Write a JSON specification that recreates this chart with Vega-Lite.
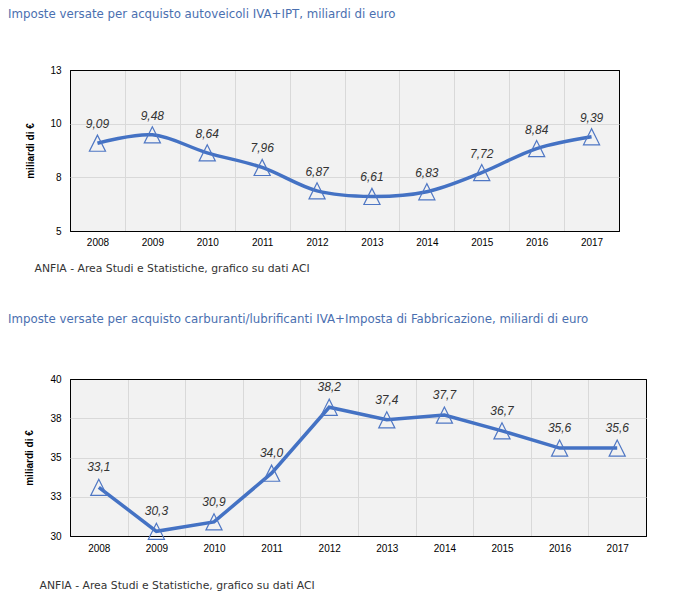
{
  "$schema": "https://vega.github.io/schema/vega-lite/v6.json",
  "padding": {"left": 7, "top": 8, "right": 5, "bottom": 5},
  "background": "white",
  "spacing": 39,
  "config": {
    "locale": {"number": {"decimal": ",", "thousands": ".", "grouping": [3], "currency": ["", " €"]}},
    "view": {"fill": "#f2f2f2", "stroke": "black", "strokeWidth": 1},
    "axis": {
      "labelFont": "Liberation Sans", "labelFontSize": 10, "labelColor": "black",
      "domain": false, "ticks": false, "grid": true, "gridWidth": 1,
      "titleFont": "Liberation Sans", "titleColor": "black"
    },
    "title": {"font": "DejaVu Sans", "fontSize": 11.8, "fontWeight": "normal", "color": "#4a6fb0", "anchor": "start", "frame": "group"}
  },
  "vconcat": [
    {
      "title": {"text": "Imposte versate per acquisto autoveicoli IVA+IPT, miliardi di euro", "dx": -62, "offset": 44},
      "width": 549,
      "height": 161,
      "data": {"values": [
        {"anno": "2008", "valore": 9.09},
        {"anno": "2009", "valore": 9.48},
        {"anno": "2010", "valore": 8.64},
        {"anno": "2011", "valore": 7.96},
        {"anno": "2012", "valore": 6.87},
        {"anno": "2013", "valore": 6.61},
        {"anno": "2014", "valore": 6.83},
        {"anno": "2015", "valore": 7.72},
        {"anno": "2016", "valore": 8.84},
        {"anno": "2017", "valore": 9.39}
      ]},
      "encoding": {
        "x": {"field": "anno", "type": "ordinal", "scale": {"paddingInner": 0, "paddingOuter": 0},
          "axis": {"labelAngle": 0, "tickBand": "extent", "labelPadding": 6,
            "gridColor": {"condition": {"test": "datum.extra || datum.index == 1", "value": "black"}, "value": "#d9d9d9"},
            "title": "ANFIA - Area Studi e Statistiche, grafico su dati ACI",
            "titleAnchor": "start", "titleX": -36, "titleY": 31, "titleBaseline": "top",
            "titleFont": "DejaVu Sans", "titleFontWeight": "normal", "titleFontSize": 10.8, "titleColor": "#333333"}},
        "y": {"field": "valore", "type": "quantitative", "scale": {"domain": [5, 12.5], "nice": false, "zero": false},
          "axis": {"values": [5, 7.5, 10, 12.5], "format": ".0f", "labelPadding": 9,
            "gridColor": {"condition": {"test": "datum.value == 5 || datum.value == 12.5", "value": "black"}, "value": "#d9d9d9"},
            "title": "miliardi di €", "titleFontSize": 10, "titleFontWeight": "bold", "titlePadding": 14}}
      },
      "layer": [
        {"mark": {"type": "line", "color": "#4472c4", "strokeWidth": 3.5, "interpolate": "catmull-rom"}},
        {"mark": {"type": "point", "shape": "M0,-1L-1,1L1,1Z", "size": 260, "filled": false, "stroke": "#4f77c4", "strokeWidth": 1.2, "opacity": 1}},
        {"mark": {"type": "text", "dy": -19, "fontStyle": "italic", "fontSize": 12, "font": "Liberation Sans", "color": "#333333"},
          "encoding": {"text": {"field": "valore", "type": "quantitative", "format": ".2f"}}}
      ]
    },
    {
      "title": {"text": "Imposte versate per acquisto carburanti/lubrificanti IVA+Imposta di Fabbricazione, miliardi di euro", "dx": -62, "offset": 48},
      "width": 576,
      "height": 157,
      "data": {"values": [
        {"anno": "2008", "valore": 33.1},
        {"anno": "2009", "valore": 30.3},
        {"anno": "2010", "valore": 30.9},
        {"anno": "2011", "valore": 34.0},
        {"anno": "2012", "valore": 38.2},
        {"anno": "2013", "valore": 37.4},
        {"anno": "2014", "valore": 37.7},
        {"anno": "2015", "valore": 36.7},
        {"anno": "2016", "valore": 35.6},
        {"anno": "2017", "valore": 35.6}
      ]},
      "encoding": {
        "x": {"field": "anno", "type": "ordinal", "scale": {"paddingInner": 0, "paddingOuter": 0},
          "axis": {"labelAngle": 0, "tickBand": "extent", "labelPadding": 7,
            "gridColor": {"condition": {"test": "datum.extra || datum.index == 1", "value": "black"}, "value": "#d9d9d9"},
            "title": "ANFIA - Area Studi e Statistiche, grafico su dati ACI",
            "titleAnchor": "start", "titleX": -31, "titleY": 43, "titleBaseline": "top",
            "titleFont": "DejaVu Sans", "titleFontWeight": "normal", "titleFontSize": 10.8, "titleColor": "#333333"}},
        "y": {"field": "valore", "type": "quantitative", "scale": {"domain": [30, 40], "nice": false, "zero": false},
          "axis": {"values": [30, 32.5, 35, 37.5, 40], "format": ".0f", "labelPadding": 9,
            "gridColor": {"condition": {"test": "datum.value == 30 || datum.value == 40", "value": "black"}, "value": "#d9d9d9"},
            "title": "miliardi di €", "titleFontSize": 10, "titleFontWeight": "bold", "titlePadding": 15}}
      },
      "layer": [
        {"mark": {"type": "line", "color": "#4472c4", "strokeWidth": 3.5}},
        {"mark": {"type": "point", "shape": "M0,-1L-1,1L1,1Z", "size": 260, "filled": false, "stroke": "#4f77c4", "strokeWidth": 1.2, "opacity": 1}},
        {"mark": {"type": "text", "dy": -20, "fontStyle": "italic", "fontSize": 12, "font": "Liberation Sans", "color": "#333333"},
          "encoding": {"text": {"field": "valore", "type": "quantitative", "format": ".1f"}}}
      ]
    }
  ]
}
